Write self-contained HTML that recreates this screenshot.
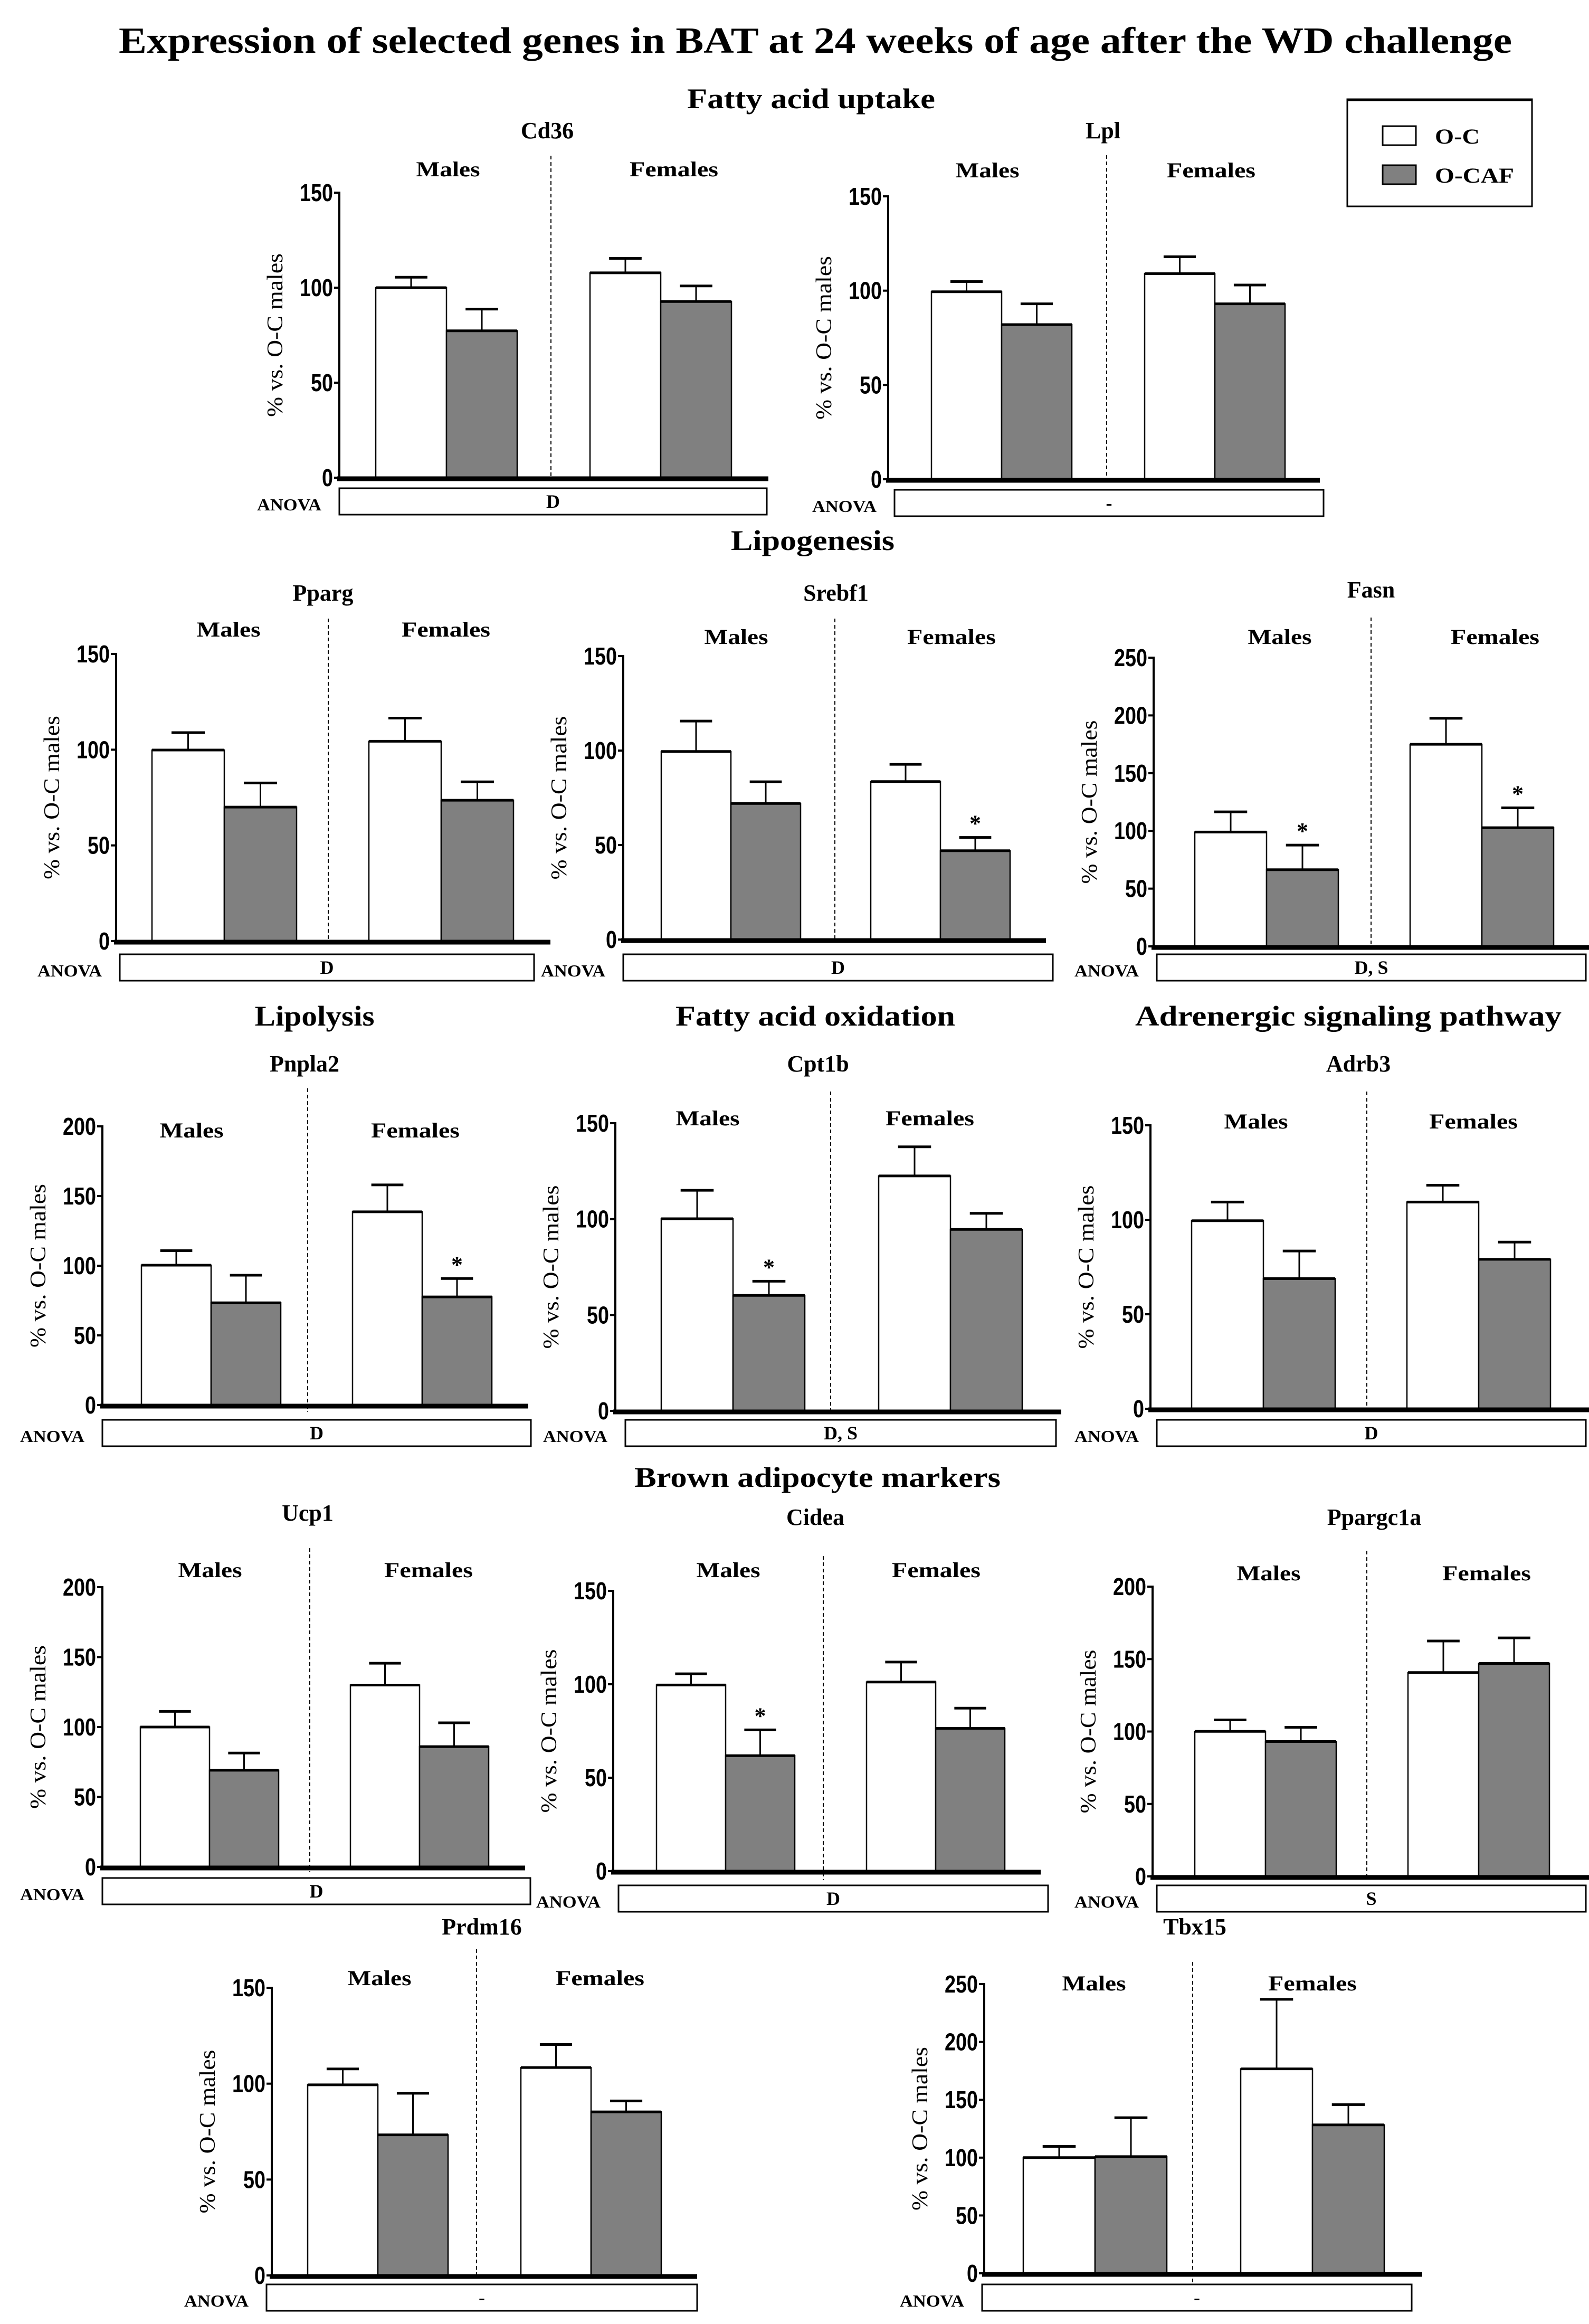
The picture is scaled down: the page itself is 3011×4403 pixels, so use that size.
<!DOCTYPE html>
<html><head><meta charset="utf-8"><style>
html,body{margin:0;padding:0;background:#fff;}
svg{display:block;}
text{font-family:"Liberation Serif",serif;font-weight:bold;fill:#000;}
.tick{font-family:"Liberation Sans",sans-serif;font-weight:bold;}
.ylab{font-family:"Liberation Serif",serif;font-weight:normal;}
</style></head><body>
<svg id="fig" xmlns="http://www.w3.org/2000/svg" width="3011" height="4403" viewBox="0 0 3011 4403">
<rect x="0" y="0" width="3011" height="4403" fill="#fff"/>
<text x="1545" y="100" text-anchor="middle" font-size="70" textLength="2640" lengthAdjust="spacingAndGlyphs">Expression of selected genes in BAT at 24 weeks of age after the WD challenge</text>
<text x="1537" y="205" text-anchor="middle" font-size="54" textLength="470" lengthAdjust="spacingAndGlyphs">Fatty acid uptake</text>
<text x="1540" y="1042" text-anchor="middle" font-size="54" textLength="310" lengthAdjust="spacingAndGlyphs">Lipogenesis</text>
<text x="596" y="1943" text-anchor="middle" font-size="54" textLength="227" lengthAdjust="spacingAndGlyphs">Lipolysis</text>
<text x="1545" y="1943" text-anchor="middle" font-size="54" textLength="530" lengthAdjust="spacingAndGlyphs">Fatty acid oxidation</text>
<text x="2555" y="1943" text-anchor="middle" font-size="54" textLength="808" lengthAdjust="spacingAndGlyphs">Adrenergic signaling pathway</text>
<text x="1549" y="2817" text-anchor="middle" font-size="54" textLength="694" lengthAdjust="spacingAndGlyphs">Brown adipocyte markers</text>
<g>
<rect x="2553" y="188" width="350" height="203" fill="#fff" stroke="#000" stroke-width="3"/>
<line x1="2553" y1="189" x2="2903" y2="189" stroke="#000" stroke-width="5"/>
<rect x="2620" y="239" width="63" height="36" fill="#fff" stroke="#000" stroke-width="3"/>
<text x="2719" y="272" font-size="40" textLength="85" lengthAdjust="spacingAndGlyphs">O-C</text>
<rect x="2620" y="313" width="63" height="36" fill="#808080" stroke="#000" stroke-width="3"/>
<text x="2719" y="346" font-size="40" textLength="150" lengthAdjust="spacingAndGlyphs">O-CAF</text>
</g>
</svg>
<script>
const genes = ["Cd36","Lpl","Pparg","Srebf1","Fasn","Pnpla2","Cpt1b","Adrb3","Ucp1","Cidea","Ppargc1a","Prdm16","Tbx15"];
const ocMaleMean =   [100, 99.4, 99.8, 99.5, 99, 100.4, 100.2, 99.5, 100, 99.6, 100.1, 99.4, 100];
const ocMaleErr =    [105.5, 104.8, 108.9, 115.6, 116.5, 110.8, 115, 109.4, 111.2, 105.6, 108, 107.7, 109.7];
const cafMaleMean =  [77.3, 82, 70, 72, 66.4, 73.4, 60.2, 68.9, 69.1, 61.8, 93.1, 73.3, 100.9];
const cafMaleErr =   [88.7, 93, 82.6, 83.5, 87.7, 93.2, 67.6, 83.5, 81.4, 75.6, 102.9, 95, 134.5];
const ocFemMean =    [107.8, 109, 104.4, 83.6, 175, 138.7, 122.5, 109.4, 130, 101.2, 140.7, 108.4, 176.7];
const ocFemErr =     [115.4, 118, 116.5, 92.7, 197.5, 158, 137.7, 118.3, 145.6, 111.9, 162.5, 120.4, 236.8];
const cafFemMean =   [92.7, 93, 73.6, 47, 102.8, 77.6, 94.6, 79.1, 86, 76.4, 147, 85.3, 128.3];
const cafFemErr =    [100.9, 103, 83.2, 54, 120, 90.8, 103, 88.2, 103, 87.2, 164.6, 91, 145.8];
const starMaleCaf =  [false,false,false,false,true,false,true,false,false,true,false,false,false];
const starFemCaf =   [false,false,false,true,true,true,false,false,false,false,false,false,false];
const yMax =         [150,150,150,150,250,200,150,150,200,150,200,150,250];
const anovaText =    ["D","-","D","D","D, S","D","D, S","D","D","D","S","-","-"];

// layout (pixel geometry only)
const L = [
 {ax:643,yt:365,y0:905,xe:1456,b1:712,b3:1118,bw:134,dv:1044,dt:295,db:905,tx:1037,ty:262,my:334,mx:849,fx:1277,a1:643,a2:1453,ay:925},
 {ax:1683,yt:372,y0:908,xe:2501,b1:1765,b3:2169,bw:133,dv:2097,dt:294,db:908,tx:2090,ty:262,my:336,mx:1871,fx:2295,a1:1695,a2:2508,ay:928},
 {ax:220,yt:1239,y0:1783,xe:1043,b1:288,b3:699,bw:137,dv:622,dt:1172,db:1783,tx:612,ty:1138,my:1206,mx:433,fx:845,a1:227,a2:1012,ay:1808},
 {ax:1181,yt:1243,y0:1780,xe:1982,b1:1253,b3:1650,bw:132,dv:1582,dt:1172,db:1780,tx:1584,ty:1138,my:1220,mx:1395,fx:1803,a1:1181,a2:1995,ay:1808},
 {ax:2186,yt:1246,y0:1793,xe:3011,b1:2264,b3:2672,bw:136,dv:2598,dt:1170,db:1793,tx:2598,ty:1132,my:1220,mx:2425,fx:2833,a1:2192,a2:3005,ay:1808},
 {ax:194,yt:2134,y0:2662,xe:1001,b1:268,b3:668,bw:132,dv:583,dt:2062,db:2675,tx:577,ty:2030,my:2155,mx:363,fx:787,a1:194,a2:1006,ay:2690},
 {ax:1166,yt:2128,y0:2673,xe:2011,b1:1253,b3:1665,bw:136,dv:1574,dt:2068,db:2673,tx:1550,ty:2030,my:2132,mx:1341,fx:1762,a1:1185,a2:2001,ay:2690},
 {ax:2180,yt:2132,y0:2669,xe:3011,b1:2258,b3:2666,bw:136,dv:2590,dt:2068,db:2675,tx:2574,ty:2030,my:2138,mx:2380,fx:2792,a1:2192,a2:3005,ay:2690},
 {ax:194,yt:3007,y0:3537,xe:995,b1:266,b3:664,bw:131,dv:587,dt:2933,db:3546,tx:583,ty:2881,my:2988,mx:398,fx:812,a1:194,a2:1005,ay:3558},
 {ax:1162,yt:3014,y0:3545,xe:1972,b1:1244,b3:1642,bw:131,dv:1560,dt:2948,db:3562,tx:1545,ty:2889,my:2988,mx:1380,fx:1774,a1:1172,a2:1986,ay:3572},
 {ax:2184,yt:3006,y0:3555,xe:3011,b1:2264,b3:2668,bw:134,dv:2590,dt:2938,db:3555,tx:2604,ty:2889,my:2994,mx:2404,fx:2817,a1:2192,a2:3005,ay:3572},
 {ax:515,yt:3766,y0:4311,xe:1321,b1:583,b3:987,bw:133,dv:903,dt:3693,db:4311,tx:913,ty:3665,my:3761,mx:719,fx:1137,a1:505,a2:1321,ay:4328},
 {ax:1865,yt:3759,y0:4307,xe:2695,b1:1939,b3:2351,bw:136,dv:2260,dt:3717,db:4328,tx:2264,ty:3665,my:3771,mx:2073,fx:2487,a1:1861,a2:2675,ay:4328}
];

const NS = "http://www.w3.org/2000/svg";
const svg = document.getElementById("fig");
function mk(tag, attrs, parent){
  const e = document.createElementNS(NS, tag);
  for (const k in attrs) e.setAttribute(k, attrs[k]);
  (parent||svg).appendChild(e);
  return e;
}

genes.forEach((g, i) => {
  const p = L[i];
  const grp = mk("g", {});
  
  
  const yScale = v => p.y0 - (v / yMax[i]) * (p.y0 - p.yt);

  const t = mk("text", {x:p.tx, y:p.ty, "text-anchor":"middle", "font-size":44}, grp);
  t.textContent = g;
  
  

  const d = mk("line", {x1:p.dv, y1:p.dt, x2:p.dv, y2:p.db, stroke:"#000", "stroke-width":2, "stroke-dasharray":"7,5"}, grp);
  
  

  const m = mk("text", {x:p.mx, y:p.my, "text-anchor":"middle", "font-size":40, textLength:121, lengthAdjust:"spacingAndGlyphs"}, grp);
  m.textContent = "Males";
  
  
  const f = mk("text", {x:p.fx, y:p.my, "text-anchor":"middle", "font-size":40, textLength:168, lengthAdjust:"spacingAndGlyphs"}, grp);
  f.textContent = "Females";
  
  

  const bars = [
    {x:p.b1, v:ocMaleMean[i], e:ocMaleErr[i], fill:"#fff", star:false, n:"bar-males-oc"},
    {x:p.b1+p.bw, v:cafMaleMean[i], e:cafMaleErr[i], fill:"#808080", star:starMaleCaf[i], n:"bar-males-ocaf"},
    {x:p.b3, v:ocFemMean[i], e:ocFemErr[i], fill:"#fff", star:false, n:"bar-females-oc"},
    {x:p.b3+p.bw, v:cafFemMean[i], e:cafFemErr[i], fill:"#808080", star:starFemCaf[i], n:"bar-females-ocaf"}
  ];
  bars.forEach(b => {
    const yv = yScale(b.v), ye = yScale(b.e), cx = b.x + p.bw/2;
    const el = mk("line", {x1:cx, y1:yv, x2:cx, y2:ye, stroke:"#000", "stroke-width":3}, grp);
    
    
    const cap = mk("line", {x1:cx-p.bw*0.23, y1:ye, x2:cx+p.bw*0.23, y2:ye, stroke:"#000", "stroke-width":5}, grp);
    
    
    const r = mk("rect", {x:b.x, y:yv, width:p.bw, height:p.y0-yv, fill:b.fill, stroke:"#000", "stroke-width":2.5}, grp);
    
    
    const tl = mk("line", {x1:b.x, y1:yv, x2:b.x+p.bw, y2:yv, stroke:"#000", "stroke-width":5}, grp);
    
    
    if (b.star) {
      const s = mk("text", {x:cx, y:ye-12, "text-anchor":"middle", "font-size":44, "font-weight":"normal"}, grp);
      s.textContent = "*";
      
      
    }
  });

  const ya = mk("line", {x1:p.ax, y1:p.yt-2, x2:p.ax, y2:p.y0, stroke:"#000", "stroke-width":4}, grp);
  
  
  const xa = mk("line", {x1:p.ax-4, y1:p.y0+2, x2:p.xe, y2:p.y0+2, stroke:"#000", "stroke-width":9}, grp);
  
  
  for (let v = 0; v <= yMax[i]; v += 50) {
    const yy = yScale(v);
    const tk = mk("line", {x1:p.ax-10, y1:yy, x2:p.ax, y2:yy, stroke:"#000", "stroke-width":4}, grp);
    
    
    const s = String(v);
    const tt = mk("text", {class:"tick", x:p.ax-12, y:yy+16, "text-anchor":"end", "font-size":46, textLength:s.length*21, lengthAdjust:"spacingAndGlyphs"}, grp);
    tt.textContent = s;
    
    
  }
  const cy = (p.yt + p.y0)/2;
  const yl = mk("text", {class:"ylab", x:0, y:0, "text-anchor":"middle", "font-size":42, textLength:310, lengthAdjust:"spacingAndGlyphs", transform:"translate(" + (p.ax-108) + "," + cy + ") rotate(-90)"}, grp);
  yl.textContent = "% vs. O-C males";
  
  

  const ab = mk("rect", {x:p.a1, y:p.ay, width:p.a2-p.a1, height:50, fill:"#fff", stroke:"#000", "stroke-width":3}, grp);
  
  
  const al = mk("text", {x:p.a1-95, y:p.ay+42, "text-anchor":"middle", "font-size":32, textLength:122, lengthAdjust:"spacingAndGlyphs"}, grp);
  al.textContent = "ANOVA";
  
  
  const at = mk("text", {x:(p.a1+p.a2)/2, y:p.ay+37, "text-anchor":"middle", "font-size":36, "font-weight":"normal"}, grp);
  at.textContent = anovaText[i];
  
  
});
</script>
</body></html>
